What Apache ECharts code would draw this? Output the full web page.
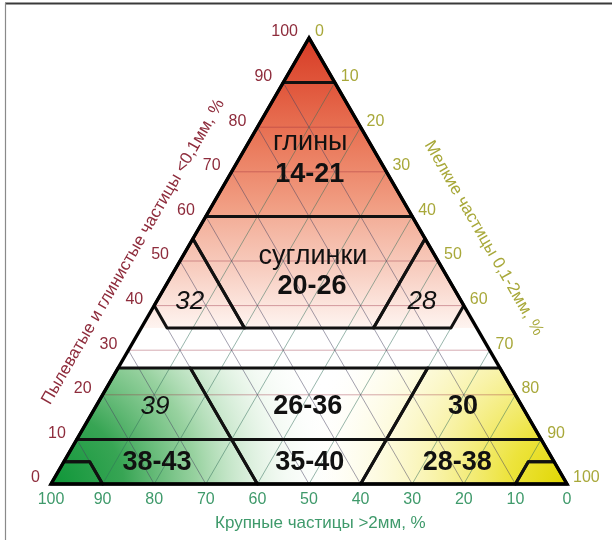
<!DOCTYPE html>
<html><head><meta charset="utf-8">
<script src="https://cdn.jsdelivr.net/npm/echarts@6/dist/echarts.min.js"></script>
<style>html,body{margin:0;padding:0;background:#fff}#c{width:612px;height:540px}</style>
</head><body><div id="c"></div>
<script>
// ---- axis ticks (percent) ----
const fineTicks   = [0,10,20,30,40,50,60,70,80,90,100];   // left axis, bottom -> top
const mediumTicks = [0,10,20,30,40,50,60,70,80,90,100];   // right axis, top -> bottom
const coarseTicks = [100,90,80,70,60,50,40,30,20,10,0];   // bottom axis, left -> right
const fineTitle   = 'Пылеватые и глинистые частицы <0,1мм, %';
const mediumTitle = 'Мелкие частицы 0,1-2мм, %';
const coarseTitle = 'Крупные частицы >2мм, %';

// ---- zones, vertices as [fine %, medium %]; coarse = 100 - fine - medium ----
const zoneClayTop   = [[100,0],[90,0],[90,10]];
const zoneClay      = [[90,0],[60,0],[60,40],[90,10]];
const zoneLoamMid   = [[60,0],[55,0],[35,20],[35,45],[55,45],[60,40]];
const zoneLoamLeft  = [[55,0],[40,0],[35,5],[35,20]];
const zoneLoamRight = [[55,45],[35,45],[35,60],[40,60]];
const zoneSandLeft  = [[26,0],[10,0],[10,30],[26,14]];
const zoneSandMid   = [[26,14],[10,30],[10,60],[26,60]];
const zoneSandRight = [[26,60],[10,60],[10,90],[26,74]];
const zoneGravLeft  = [[10,0],[5,0],[5,5],[0,10],[0,40],[10,30]];
const zoneGravCornL = [[5,0],[0,0],[0,10],[5,5]];
const zoneGravMid   = [[10,30],[0,40],[0,60],[10,60]];
const zoneGravRight = [[10,60],[0,60],[0,90],[5,90],[5,95],[10,90]];
const zoneGravCornR = [[5,90],[0,90],[0,100],[5,95]];
const outline       = [[100,0],[0,0],[0,100]];
// colour bands
const bandClay = [[100,0],[60,0],[60,40]];
const bandLoam = [[60,0],[35,0],[35,65],[60,40]];
const bandSand = [[26,0],[0,0],[0,100],[26,74]];

// ---- zone labels ----
const labelTexts = ['глины','14-21','суглинки','20-26','32','28','39','26-36','30','38-43','35-40','28-38'];
const labelKinds = ['name','num','name','num','ital','ital','ital','num','num','num','num','num'];
const labelAnchors = [[76.5,12],[69.3,15.5],[50.9,25.3],[44.2,28.5],[40.8,6.5],[40.8,51.5],[17.3,11.5],[17.3,41.1],[17.3,71.2],[4.7,18.2],[4.7,47.8],[4.9,76.3]];

const SQ = Math.sqrt(3)/2;
function toXY(p){ return [p[1] + p[0]/2, p[0]*SQ]; }

const FONT = "'Liberation Sans', Arial, sans-serif";
const cFine = '#8e2c3c', cMed = '#a8a83a', cCoarse = '#3f9a6b';

const fills = [
  {poly: bandClay, fill: {type:'linear',x:0,y:0,x2:0,y2:1,colorStops:[{offset:0,color:'#d63c26'},{offset:0.25,color:'#e0553a'},{offset:0.6,color:'#ea7a5c'},{offset:1,color:'#f2a48a'}]}},
  {poly: bandLoam, fill: {type:'linear',x:0,y:0,x2:0,y2:1,colorStops:[{offset:0,color:'#f3ae98'},{offset:0.5,color:'#f8cfc2'},{offset:1,color:'#fef4f0'}]}},
  {poly: bandSand, fill: {type:'radial',x:0,y:1,r:2.5,colorStops:[{offset:0,color:'#0e9638'},{offset:0.25,color:'rgba(45,160,75,0.95)'},{offset:0.5,color:'rgba(125,198,135,0.8)'},{offset:0.8,color:'rgba(220,240,220,0.35)'},{offset:1,color:'rgba(255,255,255,0)'}]}},
  {poly: bandSand, fill: {type:'radial',x:1,y:1,r:2.3,colorStops:[{offset:0,color:'#e0d600'},{offset:0.22,color:'rgba(236,226,50,0.95)'},{offset:0.5,color:'rgba(247,240,150,0.8)'},{offset:0.8,color:'rgba(253,250,215,0.4)'},{offset:1,color:'rgba(255,255,255,0)'}]}}
];

const borders = [zoneClayTop, zoneClay, zoneLoamMid, zoneLoamLeft, zoneLoamRight, zoneSandLeft, zoneSandMid, zoneSandRight, zoneGravLeft, zoneGravCornL, zoneGravMid, zoneGravRight, zoneGravCornR];

// grid lines from the tick arrays
const gridLines = [];
fineTicks.forEach(f => { if (f>0 && f<100) gridLines.push({a:[f,0], b:[f,100-f], c:'rgba(150,40,60,0.4)'}); });
mediumTicks.forEach(m => { if (m>0 && m<100) gridLines.push({a:[0,m], b:[100-m,m], c:'rgba(50,110,90,0.5)'}); });
coarseTicks.forEach(c => { if (c>0 && c<100) gridLines.push({a:[0,100-c], b:[100-c,0], c:'rgba(70,65,95,0.5)'}); });

function polyShape(api, poly){ return poly.map(p => api.coord(toXY(p))); }

const texts = [];
fineTicks.forEach(f => texts.push({p:[f,0], t:String(f), dx:-11, dy:-6, align:'right', color:cFine, size:16}));
mediumTicks.forEach(m => texts.push({p:[100-m,m], t:String(m), dx:6, dy:-6, align:'left', color:cMed, size:16}));
coarseTicks.forEach(c => texts.push({p:[0,100-c], t:String(c), dx:0, dy:16, align:'center', color:cCoarse, size:16}));
labelTexts.forEach((t,i) => {
  const k = labelKinds[i];
  texts.push({p:labelAnchors[i], t:t, dx:0, dy:0, align:'center', color:'#111',
    size: k==='name'?27:(k==='ital'?26:27), weight: k==='num'?'bold':'normal', style: k==='ital'?'italic':'normal'});
});
// axis titles: anchored on edge points, offset along outward normal
texts.push({p:[47,0], t:fineTitle, nrm:[-0.866,-0.5], dist:45, rot:Math.PI/3, align:'center', color:cFine, size:17});
texts.push({p:[49.4,50.6], t:mediumTitle, nrm:[0.866,-0.5], dist:51, rot:-Math.PI/3, align:'center', color:cMed, size:17});
texts.push({p:[0,52.2], t:coarseTitle, dx:0, dy:39, align:'center', color:cCoarse, size:17});

const chart = echarts.init(document.getElementById('c'), null, {renderer:'canvas'});
chart.setOption({
  animation:false,
  backgroundColor:'#fff',
  grid:{left:51, right:45, top:38, bottom:56},
  xAxis:{type:'value', min:0, max:100, show:false},
  yAxis:{type:'value', min:0, max:100*SQ, show:false},
  graphic:[
    {type:'line', shape:{x1:5,y1:3.5,x2:620,y2:3.5}, style:{stroke:'#3a3a3a', lineWidth:2}, z:100},
    {type:'line', shape:{x1:5.5,y1:3,x2:5.5,y2:545}, style:{stroke:'#8a8a8a', lineWidth:1.2}, z:100}
  ],
  series:[
    {type:'custom', coordinateSystem:'cartesian2d', z:1, silent:true, clip:false,
     data: fills.map((f,i)=>[i]),
     renderItem:(params, api)=>{ const f = fills[api.value(0)];
       return {type:'polygon', shape:{points:polyShape(api,f.poly)}, style:{fill:f.fill, stroke:null}}; }},
    {type:'custom', coordinateSystem:'cartesian2d', z:2, silent:true, clip:false,
     data: gridLines.map((g,i)=>[i]),
     renderItem:(params, api)=>{ const g = gridLines[api.value(0)];
       const a = api.coord(toXY(g.a)), b = api.coord(toXY(g.b));
       return {type:'line', shape:{x1:a[0],y1:a[1],x2:b[0],y2:b[1]}, style:{stroke:g.c, lineWidth:1}}; }},
    {type:'custom', coordinateSystem:'cartesian2d', z:3, silent:true, clip:false,
     data: borders.map((b,i)=>[i]),
     renderItem:(params, api)=>{ const b = borders[api.value(0)];
       return {type:'polygon', shape:{points:polyShape(api,b)}, style:{fill:null, stroke:'#111', lineWidth:3, lineJoin:'round'}}; }},
    {type:'custom', coordinateSystem:'cartesian2d', z:4, silent:true, clip:false,
     data:[[0]],
     renderItem:(params, api)=>({type:'polygon', shape:{points:polyShape(api,outline)}, style:{fill:null, stroke:'#000', lineWidth:3.4, lineJoin:'miter'}})},
    {type:'custom', coordinateSystem:'cartesian2d', z:5, silent:true, clip:false,
     data: texts.map((t,i)=>[i]),
     renderItem:(params, api)=>{ const t = texts[api.value(0)];
       const c = api.coord(toXY(t.p));
       let x = c[0], y = c[1];
       if (t.nrm) { x += t.nrm[0]*t.dist; y += t.nrm[1]*t.dist; } else { x += t.dx; y += t.dy; }
       return {type:'text', x:x, y:y, rotation:t.rot||0,
         style:{text:t.t, fill:t.color, fontSize:t.size, fontFamily:FONT, fontWeight:t.weight||'normal', fontStyle:t.style||'normal', align:t.align, verticalAlign:'middle'}}; }}
  ]
});
</script></body></html>
